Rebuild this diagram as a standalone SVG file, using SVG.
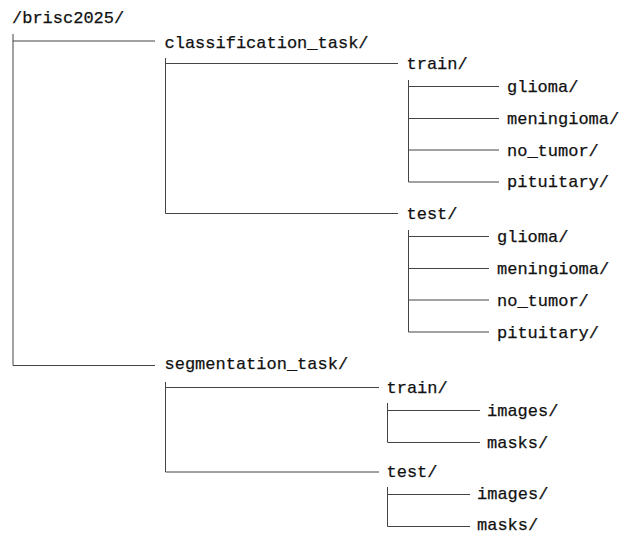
<svg xmlns="http://www.w3.org/2000/svg" width="621" height="533" viewBox="0 0 621 533">
<style>
  text { font-family: "Liberation Mono", "DejaVu Sans Mono", monospace; font-size: 17px; fill: #111; stroke: #111; stroke-width: 0.25; }
  .c line { stroke: #444; stroke-width: 1; fill: none; }
</style>
<rect width="621" height="533" fill="#fff"/>
<g id="connectors" class="c">
  <!-- root -->
  <line x1="13" y1="34" x2="13" y2="365.5"/>
  <line x1="13" y1="41" x2="155" y2="41"/>
  <line x1="13" y1="365.5" x2="155" y2="365.5"/>
  <!-- classification_task -->
  <line x1="165.5" y1="58" x2="165.5" y2="213.5"/>
  <line x1="165.5" y1="63.5" x2="398" y2="63.5"/>
  <line x1="165.5" y1="213.5" x2="398" y2="213.5"/>
  <!-- classification train -->
  <line x1="408.5" y1="80" x2="408.5" y2="182"/>
  <line x1="408.5" y1="86.5" x2="499" y2="86.5"/>
  <line x1="408.5" y1="118.5" x2="499" y2="118.5"/>
  <line x1="408.5" y1="150" x2="499" y2="150"/>
  <line x1="408.5" y1="182" x2="499" y2="182"/>
  <!-- classification test -->
  <line x1="408.5" y1="230" x2="408.5" y2="332"/>
  <line x1="408.5" y1="236.5" x2="489" y2="236.5"/>
  <line x1="408.5" y1="268.5" x2="489" y2="268.5"/>
  <line x1="408.5" y1="300" x2="489" y2="300"/>
  <line x1="408.5" y1="332" x2="489" y2="332"/>
  <!-- segmentation_task -->
  <line x1="165.5" y1="382" x2="165.5" y2="472"/>
  <line x1="165.5" y1="387.5" x2="379" y2="387.5"/>
  <line x1="165.5" y1="472" x2="379" y2="472"/>
  <!-- segmentation train -->
  <line x1="387.5" y1="403" x2="387.5" y2="442.5"/>
  <line x1="387.5" y1="410.5" x2="480" y2="410.5"/>
  <line x1="387.5" y1="442.5" x2="480" y2="442.5"/>
  <!-- segmentation test -->
  <line x1="387.5" y1="487" x2="387.5" y2="526.5"/>
  <line x1="387.5" y1="494.5" x2="470" y2="494.5"/>
  <line x1="387.5" y1="526.5" x2="470" y2="526.5"/>
</g>
<g id="root"><text x="12" y="23">/brisc2025/</text></g>
<g id="classification_task"><text x="164.5" y="47.5">classification_task/</text></g>
<g id="cls_train"><text x="406.5" y="69">train/</text></g>
<g id="cls_train_glioma"><text x="507" y="92">glioma/</text></g>
<g id="cls_train_meningioma"><text x="507" y="123.5">meningioma/</text></g>
<g id="cls_train_no_tumor"><text x="507" y="155.5">no_tumor/</text></g>
<g id="cls_train_pituitary"><text x="507" y="187">pituitary/</text></g>
<g id="cls_test"><text x="406.5" y="219">test/</text></g>
<g id="cls_test_glioma"><text x="497" y="242">glioma/</text></g>
<g id="cls_test_meningioma"><text x="497" y="274">meningioma/</text></g>
<g id="cls_test_no_tumor"><text x="497" y="305.5">no_tumor/</text></g>
<g id="cls_test_pituitary"><text x="497" y="337.5">pituitary/</text></g>
<g id="segmentation_task"><text x="164.5" y="368.5">segmentation_task/</text></g>
<g id="seg_train"><text x="386.5" y="393">train/</text></g>
<g id="seg_train_images"><text x="487" y="415.5">images/</text></g>
<g id="seg_train_masks"><text x="487" y="447.5">masks/</text></g>
<g id="seg_test"><text x="386.5" y="477">test/</text></g>
<g id="seg_test_images"><text x="477" y="498.5">images/</text></g>
<g id="seg_test_masks"><text x="477" y="529.5">masks/</text></g>
</svg>
